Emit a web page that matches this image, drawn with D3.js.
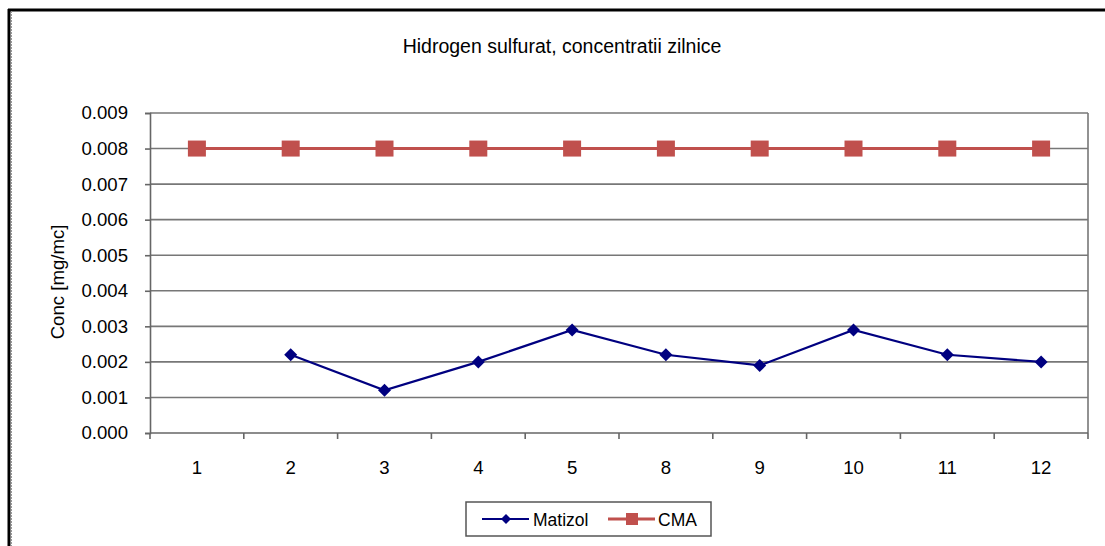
<!DOCTYPE html>
<html>
<head>
<meta charset="utf-8">
<script src="https://cdn.jsdelivr.net/npm/d3@7"></script>
<style>
body { margin: 0; background: #fff; }
text { font-family: "Liberation Sans", Arial, sans-serif; fill: #000; }
</style>
</head>
<body>
<div id="canvas"></div>
<script>
// DATA -----------------------------------------------------
var categories = ["1", "2", "3", "4", "5", "8", "9", "10", "11", "12"];
var matizol_values = [null, 0.0022, 0.0012, 0.0020, 0.0029, 0.0022, 0.0019, 0.0029, 0.0022, 0.0020];
var cma_values = [0.008, 0.008, 0.008, 0.008, 0.008, 0.008, 0.008, 0.008, 0.008, 0.008];
var y_ticks = [0, 0.001, 0.002, 0.003, 0.004, 0.005, 0.006, 0.007, 0.008, 0.009];

// STRUCTURE ------------------------------------------------
var W = 1105, H = 546;
var plot = { left: 150, top: 113, right: 1088, bottom: 433 };
var font_size = "18.6px";

var svg = d3.select("#canvas").append("svg")
.attr("width", W)
.attr("height", H);

// outer frame
svg.append("line").attr("x1", 8).attr("x2", W).attr("y1", 10).attr("y2", 10)
.style("stroke", "#000").style("stroke-width", 3);
svg.append("line").attr("x1", 9).attr("x2", 9).attr("y1", 9).attr("y2", H)
.style("stroke", "#000").style("stroke-width", 3);
svg.append("line").attr("x1", 11.5).attr("x2", 11.5).attr("y1", 11).attr("y2", H)
.style("stroke", "#999").style("stroke-width", 1).style("stroke-dasharray", "2,1");

// scales
var xScale = d3.scaleBand()
.domain(categories)
.range([plot.left, plot.right]);

var yScale = d3.scaleLinear()
.domain([0, 0.009])
.range([plot.bottom, plot.top]);

// gridlines
svg.append("g").selectAll("line")
.data(y_ticks.slice(1))
.enter().append("line")
.attr("x1", plot.left).attr("x2", plot.right)
.attr("y1", d => yScale(d)).attr("y2", d => yScale(d))
.style("stroke", "#777").style("stroke-width", 1.6);

// plot right border
svg.append("line")
.attr("x1", plot.right).attr("x2", plot.right)
.attr("y1", plot.top).attr("y2", plot.bottom)
.style("stroke", "#777").style("stroke-width", 1.6);

// y axis
var yAxis = d3.axisLeft(yScale)
.tickValues(y_ticks)
.tickFormat(d3.format(".3f"))
.tickSize(5)
.tickPadding(17);
var gy = svg.append("g")
.attr("transform", `translate(${plot.left},0)`)
.call(yAxis);
gy.select(".domain").style("stroke", "#666").style("stroke-width", 1.6);
gy.selectAll(".tick line").style("stroke", "#666").style("stroke-width", 1.6);
gy.selectAll("text").style("font-size", font_size).style("font-family", "Liberation Sans, Arial, sans-serif").style("fill", "#000");

// x axis (ticks at band boundaries)
svg.append("line")
.attr("x1", plot.left).attr("x2", plot.right)
.attr("y1", plot.bottom).attr("y2", plot.bottom)
.style("stroke", "#666").style("stroke-width", 1.6);
var boundaries = categories.map(c => xScale(c)).concat([plot.right]);
svg.append("g").selectAll("line")
.data(boundaries)
.enter().append("line")
.attr("x1", d => d).attr("x2", d => d)
.attr("y1", plot.bottom).attr("y2", plot.bottom + 6)
.style("stroke", "#666").style("stroke-width", 1.6);
svg.append("g").selectAll("text")
.data(categories)
.enter().append("text")
.attr("x", d => xScale(d) + xScale.bandwidth() / 2)
.attr("y", 474)
.attr("text-anchor", "middle")
.style("font-size", font_size)
.text(d => d);

// GFX ------------------------------------------------------
var cx = (d, i) => xScale(categories[i]) + xScale.bandwidth() / 2;

// CMA line
var cma_line = d3.line()
.x((d, i) => cx(d, i))
.y(d => yScale(d));
svg.append("path")
.datum(cma_values)
.attr("d", cma_line)
.style("fill", "none")
.style("stroke", "#C0504D")
.style("stroke-width", 3);
svg.append("g").selectAll("rect")
.data(cma_values)
.enter().append("rect")
.attr("x", (d, i) => cx(d, i) - 9)
.attr("y", d => yScale(d) - 8)
.attr("width", 18)
.attr("height", 16)
.style("fill", "#C0504D");

// Matizol line
var matizol_line = d3.line()
.defined(d => d !== null)
.x((d, i) => cx(d, i))
.y(d => yScale(d));
svg.append("path")
.datum(matizol_values)
.attr("d", matizol_line)
.style("fill", "none")
.style("stroke", "#000080")
.style("stroke-width", 2.2);
svg.append("g").selectAll("path")
.data(matizol_values.map((v, i) => ({ v: v, i: i })).filter(d => d.v !== null))
.enter().append("path")
.attr("d", "M0,-6.5L6.5,0L0,6.5L-6.5,0Z")
.attr("transform", d => `translate(${cx(d.v, d.i)},${yScale(d.v)})`)
.style("fill", "#000080");

// TEXT -----------------------------------------------------
svg.append("text")
.attr("x", 562)
.attr("y", 53)
.attr("text-anchor", "middle")
.style("font-size", "19.5px")
.text("Hidrogen sulfurat, concentratii zilnice");

svg.append("text")
.attr("transform", "translate(64,282) rotate(-90)")
.attr("text-anchor", "middle")
.style("font-size", font_size)
.text("Conc [mg/mc]");

// LEGEND ---------------------------------------------------
var legend = svg.append("g");
legend.append("rect")
.attr("x", 466).attr("y", 502)
.attr("width", 245).attr("height", 34)
.style("fill", "#fff")
.style("stroke", "#555")
.style("stroke-width", 1.5);
legend.append("line")
.attr("x1", 482).attr("x2", 529).attr("y1", 519).attr("y2", 519)
.style("stroke", "#000080").style("stroke-width", 2.2);
legend.append("path")
.attr("d", "M0,-5L5,0L0,5L-5,0Z")
.attr("transform", "translate(506,519)")
.style("fill", "#000080");
legend.append("text")
.attr("x", 533).attr("y", 525.5)
.style("font-size", "17.5px")
.text("Matizol");
legend.append("line")
.attr("x1", 608).attr("x2", 655).attr("y1", 519).attr("y2", 519)
.style("stroke", "#C0504D").style("stroke-width", 3);
legend.append("rect")
.attr("x", 626).attr("y", 513).attr("width", 12).attr("height", 12)
.style("fill", "#C0504D");
legend.append("text")
.attr("x", 658).attr("y", 525.5)
.style("font-size", "17.5px")
.text("CMA");
</script>
</body>
</html>
